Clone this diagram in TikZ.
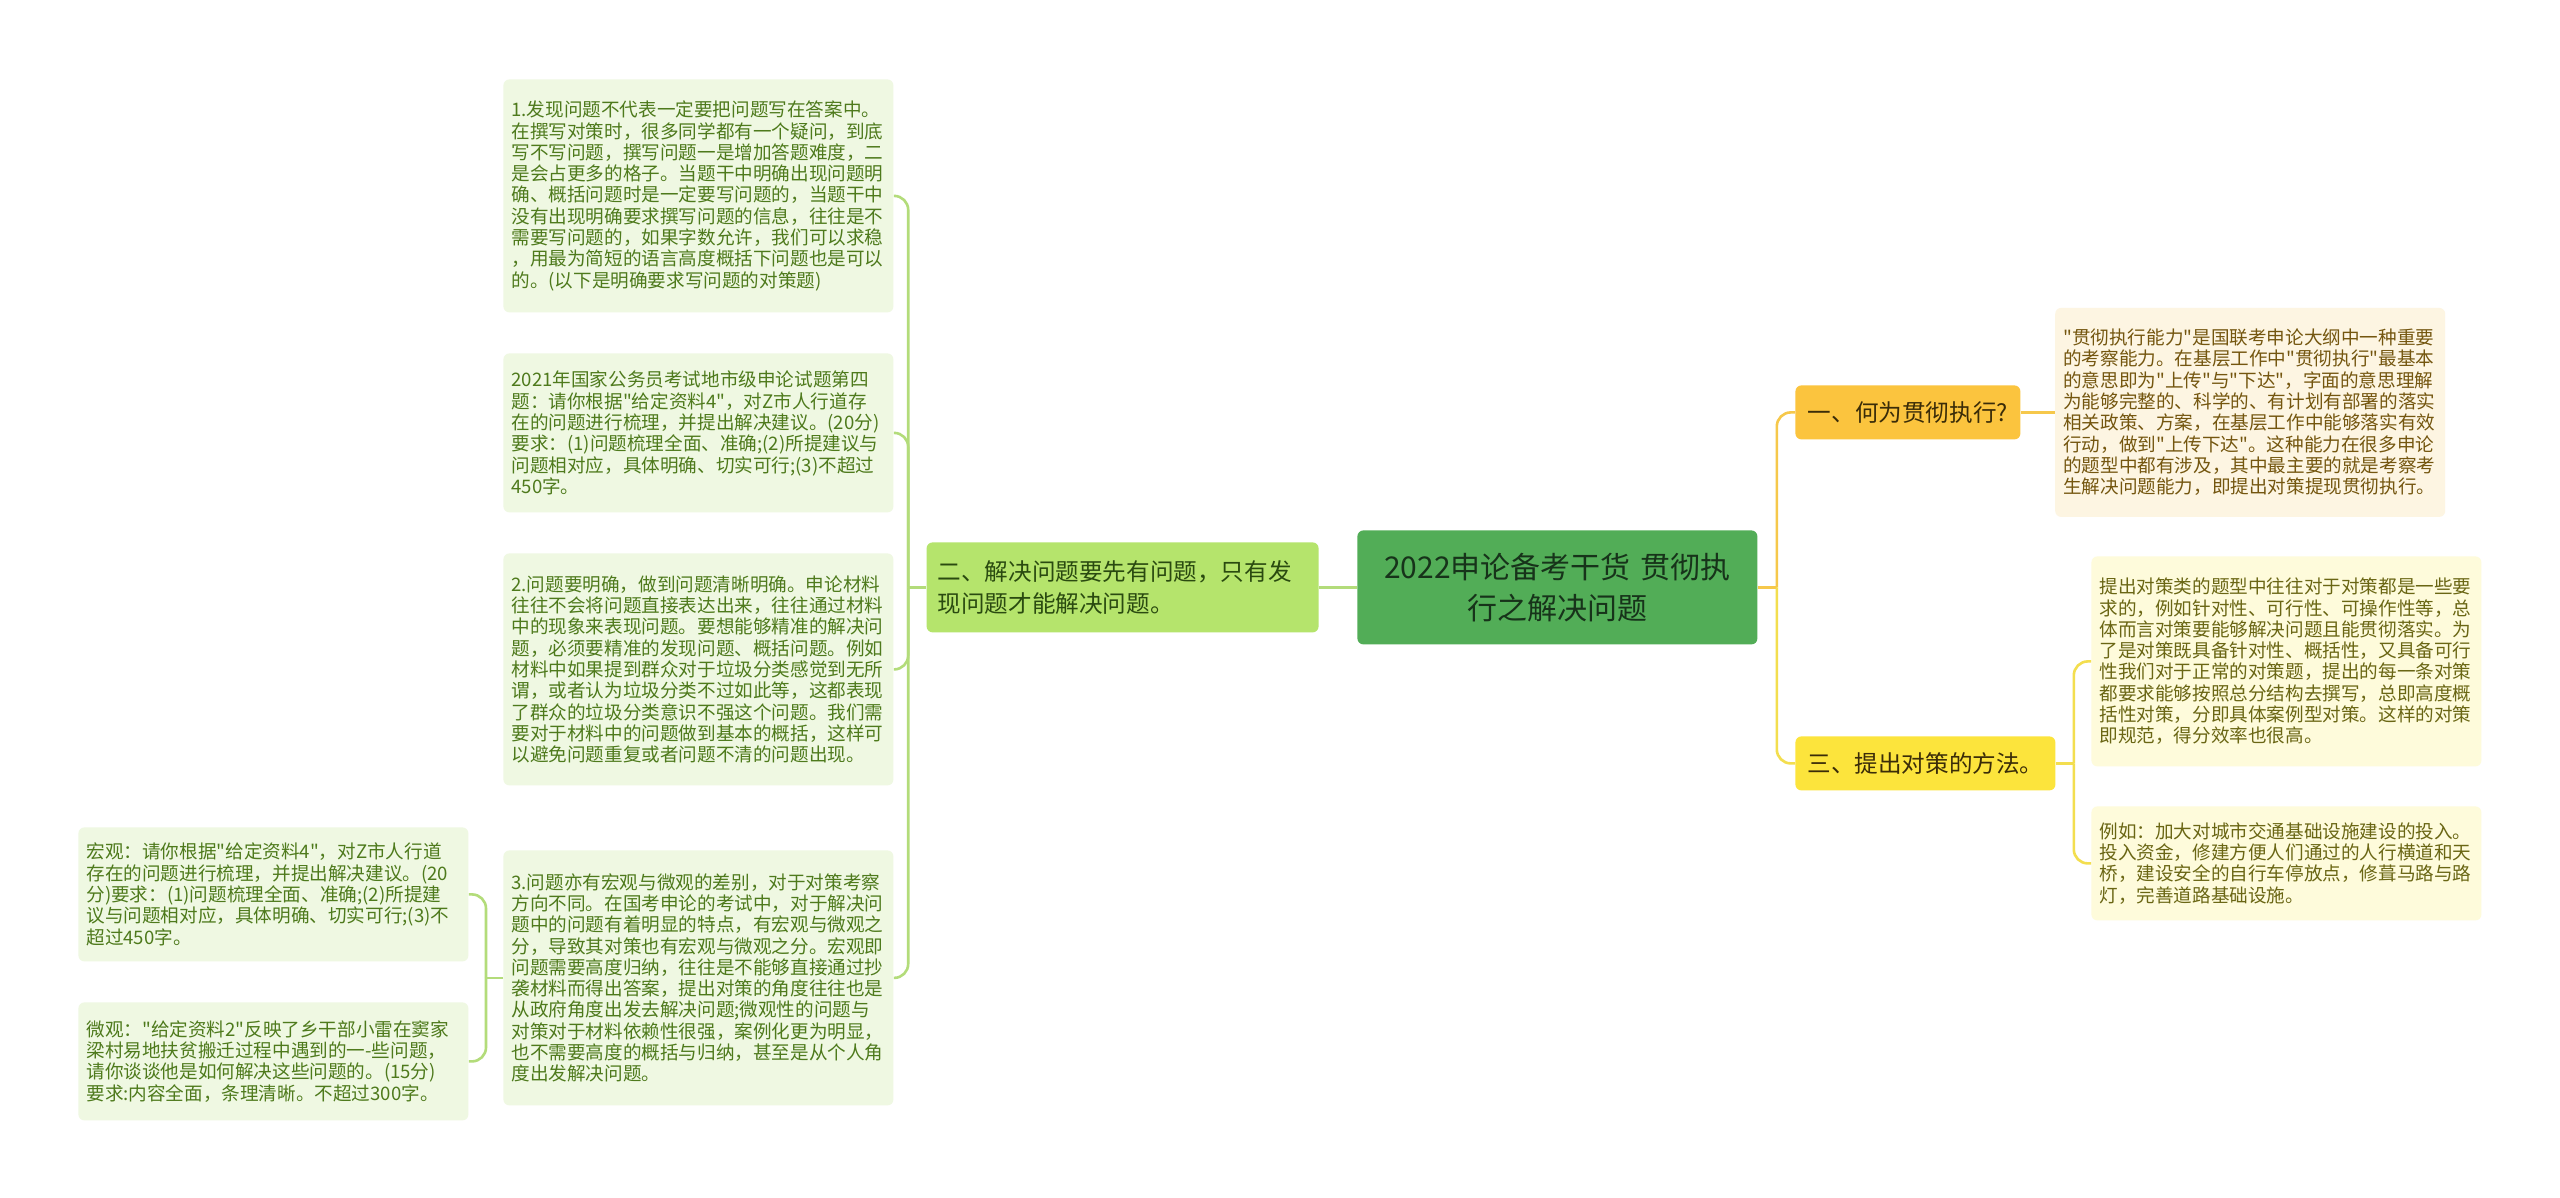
\documentclass[tikz,border=0pt]{standalone}
\usepackage{fontspec}
\newfontfamily\cjk{Noto Sans CJK SC}[Ligatures=TeXOff]
\usetikzlibrary{positioning}
\definecolor{rootfill}{HTML}{52AD57}
\definecolor{roottext}{HTML}{17331A}
\definecolor{greenfill}{HTML}{B5E46C}
\definecolor{greentext}{HTML}{2A4A10}
\definecolor{leaffill}{HTML}{EFF8E2}
\definecolor{leaftext}{HTML}{4E7A1C}
\definecolor{greenline}{HTML}{B3DC7A}
\definecolor{orangefill}{HTML}{FBC43E}
\definecolor{orangeline}{HTML}{F6C84B}
\definecolor{creamfill}{HTML}{FDF5E2}
\definecolor{creamtext}{HTML}{74560F}
\definecolor{yellowfill}{HTML}{FCE43C}
\definecolor{yellowline}{HTML}{F3DE4F}
\definecolor{paleyellow}{HTML}{FEFBDB}
\definecolor{paletext}{HTML}{6A6614}
\definecolor{darktext}{HTML}{3A2C08}
\begin{document}
\begin{tikzpicture}[x=0.5pt, y=-0.5pt,
  main node/.style={rounded corners=3pt, fill=rootfill, text=roottext, align=center, text width=190pt, inner xsep=5pt, minimum height=57pt, font=\cjk\fontsize{15}{20.5}\selectfont},
  branch node/.style={rounded corners=3pt, text=darktext, inner xsep=6pt, minimum height=27pt, font=\cjk\fontsize{11.8}{16}\selectfont},
  leaf node/.style={rounded corners=3pt, anchor=north west, align=left, text width=187pt, inner xsep=4pt, font=\cjk\fontsize{9.3}{10.65}\selectfont},
  green leaf/.style={leaf node, fill=leaffill, text=leaftext},
  cream leaf/.style={leaf node, fill=creamfill, text=creamtext},
  yellow leaf/.style={leaf node, fill=paleyellow, text=paletext},
  link/.style={line width=1.3pt, rounded corners=7pt}]
\useasboundingbox (0,0) rectangle (2560,1198);
\fill[white] (0,0) rectangle (2560,1198);

\node[main node, anchor=north west] (1) at (1357,530) {2022申论备考干货 贯彻执\\行之解决问题};
\node[branch node, fill=greenfill, text=greentext, text width=185pt, inner xsep=5.5pt, align=left, minimum height=45pt] (2) [left=19pt of 1] {二、解决问题要先有问题，只有发\\现问题才能解决问题。};

\node[green leaf, minimum height=116.5pt] (3) at (503,79) {1.发现问题不代表一定要把问题写在答案中。\\在撰写对策时，很多同学都有一个疑问，到底\\写不写问题，撰写问题一是增加答题难度，二\\是会占更多的格子。当题干中明确出现问题明\\确、概括问题时是一定要写问题的，当题干中\\没有出现明确要求撰写问题的信息，往往是不\\需要写问题的，如果字数允许，我们可以求稳\\，用最为简短的语言高度概括下问题也是可以\\的。(以下是明确要求写问题的对策题)};
\node[green leaf, minimum height=79.5pt] (4) at (503,353) {2021年国家公务员考试地市级申论试题第四\\题：请你根据"给定资料4"，对Z市人行道存\\在的问题进行梳理，并提出解决建议。(20分)\\要求：(1)问题梳理全面、准确;(2)所提建议与\\问题相对应，具体明确、切实可行;(3)不超过\\450字。};
\node[green leaf, minimum height=116pt] (5) at (503,553) {2.问题要明确，做到问题清晰明确。申论材料\\往往不会将问题直接表达出来，往往通过材料\\中的现象来表现问题。要想能够精准的解决问\\题，必须要精准的发现问题、概括问题。例如\\材料中如果提到群众对于垃圾分类感觉到无所\\谓，或者认为垃圾分类不过如此等，这都表现\\了群众的垃圾分类意识不强这个问题。我们需\\要对于材料中的问题做到基本的概括，这样可\\以避免问题重复或者问题不清的问题出现。};
\node[green leaf, minimum height=127.5pt] (6) at (503,850) {3.问题亦有宏观与微观的差别，对于对策考察\\方向不同。在国考申论的考试中，对于解决问\\题中的问题有着明显的特点，有宏观与微观之\\分，导致其对策也有宏观与微观之分。宏观即\\问题需要高度归纳，往往是不能够直接通过抄\\袭材料而得出答案，提出对策的角度往往也是\\从政府角度出发去解决问题;微观性的问题与\\对策对于材料依赖性很强，案例化更为明显，\\也不需要高度的概括与归纳，甚至是从个人角\\度出发解决问题。};
\node[green leaf, minimum height=67pt] (7) at (78,827) {宏观：请你根据"给定资料4"，对Z市人行道\\存在的问题进行梳理，并提出解决建议。(20\\分)要求：(1)问题梳理全面、准确;(2)所提建\\议与问题相对应，具体明确、切实可行;(3)不\\超过450字。};
\node[green leaf, minimum height=59pt] (8) at (78,1002) {微观："给定资料2"反映了乡干部小雷在窦家\\梁村易地扶贫搬迁过程中遇到的一-些问题，\\请你谈谈他是如何解决这些问题的。(15分)\\要求:内容全面，条理清晰。不超过300字。};

\node[branch node, fill=orangefill, anchor=north west, minimum width=112.5pt] (9) at (1795,385) {一、何为贯彻执行?};
\node[cream leaf, minimum height=104.5pt] (10) [right=17pt of 9] {"贯彻执行能力"是国联考申论大纲中一种重要\\的考察能力。在基层工作中"贯彻执行"最基本\\的意思即为"上传"与"下达"，字面的意思理解\\为能够完整的、科学的、有计划有部署的落实\\相关政策、方案，在基层工作中能够落实有效\\行动，做到"上传下达"。这种能力在很多申论\\的题型中都有涉及，其中最主要的就是考察考\\生解决问题能力，即提出对策提现贯彻执行。};
\node[branch node, fill=yellowfill, anchor=north west, minimum width=130pt] (11) at (1795,736) {三、提出对策的方法。};
\node[yellow leaf, minimum height=105pt] (12) at (2091,556) {提出对策类的题型中往往对于对策都是一些要\\求的，例如针对性、可行性、可操作性等，总\\体而言对策要能够解决问题且能贯彻落实。为\\了是对策既具备针对性、概括性，又具备可行\\性我们对于正常的对策题，提出的每一条对策\\都要求能够按照总分结构去撰写，总即高度概\\括性对策，分即具体案例型对策。这样的对策\\即规范，得分效率也很高。};
\node[yellow leaf, minimum height=57pt] (13) at (2091,806) {例如：加大对城市交通基础设施建设的投入。\\投入资金，修建方便人们通过的人行横道和天\\桥，建设安全的自行车停放点，修葺马路与路\\灯，完善道路基础设施。};

\path[link, color=greenline] (1) edge (2);
\draw[link, greenline] (2.west) -- ++(-18,0);
\foreach \n in {3,4,5,6}
  \draw[link, greenline] (2.west) ++(-18,0) |- (\n.east);
\draw[link, greenline] (6.west) -- ++(-17,0);
\foreach \n in {7,8}
  \draw[link, greenline] (6.west) ++(-17,0) |- (\n.east);

\draw[link, orangeline] (1.east) -- ++(19,0);
\draw[link, orangeline] (1.east) ++(19,0) |- (9.west);
\draw[link, yellowline] (1.east) ++(19,0) |- (11.west);
\path[link, color=orangeline] (9) edge (10);
\draw[link, yellowline] (11.east) -- ++(18,0);
\foreach \n in {12,13}
  \draw[link, yellowline] (11.east) ++(18,0) |- (\n.west);
\end{tikzpicture}
\end{document}
